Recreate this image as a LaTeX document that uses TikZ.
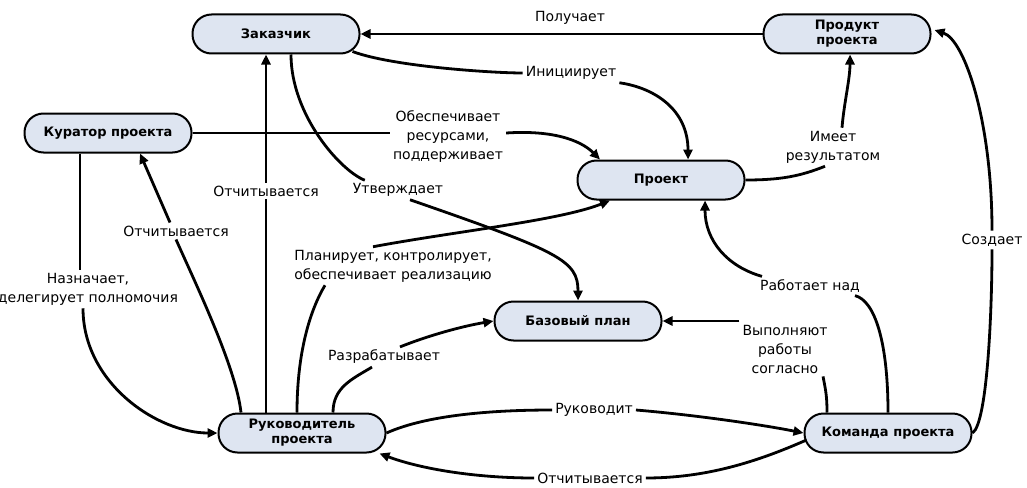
\documentclass[tikz,border=0pt]{standalone}
\usepackage{fontspec}
\setmainfont{DejaVu Sans}
\usetikzlibrary{arrows.meta,calc}
\definecolor{pillfill}{RGB}{222,229,241}
\tikzset{
	pill/.style={draw, line width=2pt, fill=pillfill, rounded corners=19pt, minimum width=167pt, minimum height=39pt, align=center, inner sep=2pt, font=\fontsize{13}{15}\selectfont\bfseries},
	lbl/.style={align=center, inner sep=3pt, font=\fontsize{14}{19}\selectfont},
	link/.style={line width=2.8pt},
	arr/.style={link, -{Triangle[length=10pt,width=9pt]}}
}

\begin{document}
\begin{tikzpicture}[x=1pt, y=-1pt]
			%%%%% START %%%%%
			\useasboundingbox (0,0) rectangle (1027,487);
			\fill[white] (0,0) rectangle (1027,487);
			\clip (0,0) rectangle (1027,487);
			
			\node[pill] (zak) at (276,34) {Заказчик};
			\node[pill] (prod) at (847,34) {Продукт\\проекта};
			\node[pill] (kur) at (108,133) {Куратор проекта};
			\node[pill] (proj) at (661,180) {Проект};
			\node[pill] (base) at (578,321) {Базовый план};
			\node[pill] (ruk) at (302,433) {Руководитель\\проекта};
			\node[pill] (team) at (888,433) {Команда проекта};
			
			\node[lbl] (l-poluch) at (570,18) {Получает};
			\node[lbl] (l-inic) at (571,73) {Инициирует};
			\node[lbl] (l-obesp) at (448,137) {Обеспечивает\\ресурсами,\\поддерживает};
			\node[lbl] (l-utv) at (398,190) {Утверждает};
			\node[lbl] (l-otch1) at (266,191) {Отчитывается};
			\node[lbl] (l-otch2) at (176,231) {Отчитывается};
			\node[lbl] (l-nazn) at (88,289) {Назначает,\\делегирует полномочия};
			\node[lbl] (l-plan) at (393,266) {Планирует, контролирует,\\обеспечивает реализацию};
			\node[lbl] (l-razr) at (384,357) {Разрабатывает};
			\node[lbl] (l-ruk) at (594,410) {Руководит};
			\node[lbl] (l-otch3) at (590,478) {Отчитывается};
			\node[lbl] (l-vyp) at (785,349) {Выполняют\\работы\\согласно};
			\node[lbl] (l-rab) at (810,286) {Работает над};
			\node[lbl] (l-sozd) at (992,240) {Создает};
			\node[lbl] (l-imeet) at (833,147) {Имеет\\результатом};
			
			\coordinate (nazn-top) at ($(kur.south)+(-28,0)$);
			
			\draw[arr] (prod.west) -- (zak.east);
			
			\draw[link] ($(zak.south east)+(-8,-3)$) .. controls +(40,15) and +(-30,0) .. (l-inic.west);
			\draw[arr] (l-inic.south east) .. controls +(35,5) and +(0,-50) .. ($(proj.north)+(27,0)$);
			
			\draw[link] (kur.east) -- (kur.east -| l-obesp.west);
			\draw[arr] (kur.east -| l-obesp.east) .. controls +(45,-3) and +(-20,-20) .. ($(proj.north)+(-61,0)$);
			
			\draw[link] ($(zak.south)+(15,0)$) .. controls +(0,60) and +(-25,-10) .. ($(l-utv.north west)+(15,0)$);
			\draw[arr] ($(l-utv.south)+(12,0)$) .. controls +(150,52) and +(0,-40) .. (base.north);
			
			\draw[link] (ruk.north -| l-otch1) -- (l-otch1.south);
			\draw[arr] (l-otch1.north) -- (l-otch1 |- zak.south);
			
			\draw[link] ($(ruk.north)+(-61,0)$) .. controls +(-5,-45) and +(20,45) .. (l-otch2.south);
			\draw[arr] ($(l-otch2.north)+(-6,0)$) -- ($(kur.south)+(32,0)$);
			
			\draw[link] (nazn-top) -- (nazn-top |- l-nazn.north);
			\draw[arr] ($(l-nazn.south)+(-5,0)$) .. controls +(0,75) and +(-60,0) .. (ruk.west);
			
			\draw[link] ($(ruk.north)+(-5,0)$) .. controls +(0,-60) and +(-15,25) .. ($(l-plan.south)+(-68,0)$);
			\draw[arr] ($(l-plan.north)+(-20,0)$) .. controls +(80,-15) and +(-50,20) .. ($(proj.south)+(-51,0)$);
			
			\draw[link] ($(ruk.north)+(31,0)$) .. controls +(0,-25) and +(-20,12) .. ($(l-razr.south)+(-12,0)$);
			\draw[arr] ($(l-razr.north)+(16,0)$) .. controls +(30,-12) and +(-30,5) .. (base.west);
			
			\draw[link] (ruk.east) .. controls +(40,-18) and +(-60,0) .. (l-ruk.west);
			\draw[arr] (l-ruk.east) .. controls +(60,5) and +(-40,-8) .. (team.west);
			
			\draw[link] ($(team.west)+(3,7)$) .. controls +(-50,22) and +(60,0) .. (l-otch3.east);
			\draw[arr] (l-otch3.west) .. controls +(-60,0) and +(40,15) .. ($(ruk.south east)+(-7,0)$);
			
			\draw[link] ($(team.north)+(-61,0)$) .. controls +(0,-15) and +(3,15) .. ($(l-vyp.south)+(38,0)$);
			\draw[arr] (l-vyp.west |- base.east) -- (base.east);
			
			\draw[link] (team.north) .. controls +(0,-70) and +(20,5) .. ($(l-rab.south east)+(-8,0)$);
			\draw[arr] ($(l-rab.north west)+(5,0)$) .. controls +(-35,-10) and +(0,40) .. ($(proj.south)+(44,0)$);
			
			\draw[link] (team.east) .. controls +(15,-10) and +(0,60) .. (l-sozd.south);
			\draw[arr] (l-sozd.north) .. controls +(0,-110) and +(30,10) .. ($(prod.east)+(3,-4)$);
			
			\draw[link] (proj.east) .. controls +(35,0) and +(-25,10) .. ($(l-imeet.south)+(-8,0)$);
			\draw[arr] ($(l-imeet.north)+(9,0)$) .. controls +(2,-25) and +(0,25) .. ($(prod.south)+(3,0)$);
			
			%%%%% END %%%%%
\end{tikzpicture}
\end{document}
